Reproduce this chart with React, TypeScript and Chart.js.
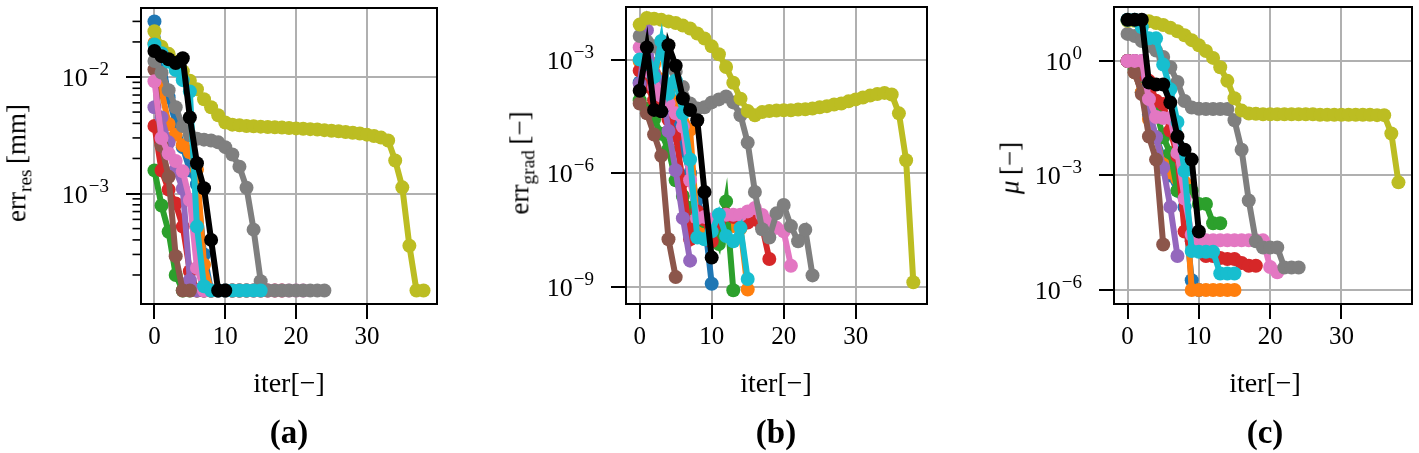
import React, { useEffect, useRef } from "react";
import { Chart, registerables } from "chart.js";
Chart.register(...registerables);

const FONT = '"Liberation Serif", "DejaVu Serif", serif';
const GRID = "#b0b0b0";
const PAGE_W = 1419;
const PAGE_H = 453;

// ---------- categories / ticks ----------
const iterTicks = [0, 10, 20, 30];
const seriesNames = ["blue", "orange", "green", "red", "purple", "brown", "pink", "gray", "olive", "cyan", "black"];
const seriesColors = ["#1f77b4", "#ff7f0e", "#2ca02c", "#d62728", "#9467bd", "#8c564b", "#e377c2", "#7f7f7f", "#bcbd22", "#17becf", "#000000"];

const resTicks = [1e-3, 1e-2];
const resTickExp = ["−3", "−2"];
const resMinor = [2e-4, 3e-4, 4e-4, 5e-4, 6e-4, 7e-4, 8e-4, 9e-4, 2e-3, 3e-3, 4e-3, 5e-3, 6e-3, 7e-3, 8e-3, 9e-3, 2e-2, 3e-2];
const gradTicks = [1e-9, 1e-6, 1e-3];
const gradTickExp = ["−9", "−6", "−3"];
const muTicks = [1e-6, 1e-3, 1];
const muTickExp = ["−6", "−3", "0"];

// ---------- (a) err_res [mm] ----------
const resBlue = [3.0e-2, 1.5e-2, 6.7e-3, 4.0e-3, 2.5e-3, 1.58e-3, 1.2e-3, 3.0e-4, 1.47e-4, 1.47e-4, 1.47e-4];
const resOrange = [1.96e-2, 7.6e-3, 3.95e-3, 3.2e-3, 2.6e-3, 2.26e-3, 1.6e-3, 2.45e-4, 1.47e-4, 1.47e-4, 1.47e-4, 1.47e-4, 1.47e-4, 1.47e-4, 1.47e-4, 1.47e-4];
const resGreen = [1.58e-3, 7.9e-4, 4.7e-4, 2.0e-4, 1.47e-4, 1.47e-4, 1.47e-4, 1.47e-4, 1.47e-4, 1.47e-4, 1.47e-4, 1.47e-4, 1.47e-4, 1.47e-4];
const resRed = [3.8e-3, 1.58e-3, 1.08e-3, 8.2e-4, 5.2e-4, 2.15e-4, 1.47e-4, 1.47e-4, 1.47e-4, 1.47e-4, 1.47e-4, 1.47e-4, 1.47e-4, 1.47e-4, 1.47e-4, 1.47e-4, 1.47e-4, 1.47e-4, 1.47e-4];
const resPurple = [5.5e-3, 4.5e-3, 2.75e-3, 1.6e-3, 1.1e-3, 1.8e-4, 1.47e-4, 1.47e-4];
const resBrown = [1.16e-2, 2.58e-3, 1.39e-3, 2.9e-4, 1.47e-4, 1.47e-4];
const resPink = [9.2e-3, 3.0e-3, 2.2e-3, 1.9e-3, 1.55e-3, 8.8e-4, 2.3e-4, 1.47e-4, 1.47e-4, 1.47e-4, 1.47e-4, 1.47e-4, 1.47e-4, 1.47e-4, 1.47e-4, 1.47e-4, 1.47e-4, 1.47e-4, 1.47e-4, 1.47e-4, 1.47e-4, 1.47e-4];
const resGray = [1.37e-2, 1.09e-2, 7.7e-3, 5.5e-3, 3.8e-3, 3.16e-3, 2.95e-3, 2.9e-3, 2.85e-3, 2.75e-3, 2.5e-3, 2.16e-3, 1.7e-3, 1.12e-3, 4.9e-4, 1.77e-4, 1.47e-4, 1.47e-4, 1.47e-4, 1.47e-4, 1.47e-4, 1.47e-4, 1.47e-4, 1.47e-4, 1.47e-4];
const resOlive = [2.47e-2, 1.82e-2, 1.58e-2, 1.35e-2, 1.12e-2, 9.3e-3, 7.85e-3, 6.45e-3, 5.5e-3, 4.7e-3, 4.07e-3, 3.9e-3, 3.85e-3, 3.8e-3, 3.78e-3, 3.75e-3, 3.72e-3, 3.7e-3, 3.68e-3, 3.65e-3, 3.62e-3, 3.6e-3, 3.57e-3, 3.54e-3, 3.5e-3, 3.46e-3, 3.42e-3, 3.37e-3, 3.32e-3, 3.27e-3, 3.2e-3, 3.12e-3, 3.02e-3, 2.85e-3, 1.92e-3, 1.13e-3, 3.56e-4, 1.47e-4, 1.47e-4];
const resCyan = [1.9e-2, 1.6e-2, 1.35e-2, 1.15e-2, 9.4e-3, 7.5e-3, 5.2e-4, 1.6e-4, 1.47e-4, 1.47e-4, 1.47e-4, 1.47e-4, 1.47e-4, 1.47e-4, 1.47e-4, 1.47e-4];
const resBlack = [1.67e-2, 1.51e-2, 1.42e-2, 1.32e-2, 1.45e-2, 4.5e-3, 1.82e-3, 1.11e-3, 4.0e-4, 1.47e-4, 1.47e-4];

// ---------- (b) err_grad [-] ----------
const gradBlue = [2.5e-4, 4e-4, 1.8e-4, 1.2e-4, 6e-5, 2.5e-5, 4.3e-6, 1e-6, 2e-7, 6e-8, 1.2e-9];
const gradOrange = [9e-4, 6e-4, 7.6e-4, 3e-4, 1.5e-4, 8e-5, 4e-5, 1.4e-5, 3.3e-8, 4e-8, 3.5e-8, 4e-8, 3.3e-8, 4e-8, 3.5e-8, 8.5e-10];
const gradGreen = [8.5e-5, 5e-5, 2.6e-5, 1.1e-5, 4.3e-6, 6.5e-7, 2.5e-7, 1.2e-7, 7.2e-8, 5.4e-8, 4e-8, 1.35e-8, 1.8e-7, 8.1e-10];
const gradRed = [5.1e-4, 2e-4, 8.5e-5, 4.5e-5, 2.6e-5, 9.8e-6, 5.9e-7, 1.8e-8, 9.8e-8, 6e-8, 1.6e-8, 5e-8, 8.1e-8, 7e-8, 6e-8, 5e-8, 6e-8, 4e-8, 5.4e-9];
const gradPurple = [2.3e-4, 6e-3, 4.2e-4, 2.6e-4, 1.3e-5, 1.2e-6, 6.5e-8, 4.9e-9];
const gradBrown = [6.9e-5, 3.8e-5, 1.05e-5, 2.9e-6, 1.8e-8, 1.8e-9];
const gradPink = [2.1e-3, 5.1e-4, 1.9e-4, 1.1e-4, 6.9e-5, 3.8e-5, 1.7e-5, 6.5e-7, 6.5e-8, 7e-8, 6e-8, 7.5e-8, 8e-8, 8e-8, 8e-8, 9.8e-8, 1.2e-7, 7.9e-8, 5.4e-8, 3.6e-8, 2.9e-8, 3.6e-9];
const gradGray = [4.2e-3, 3.0e-3, 2.24e-3, 1.57e-3, 1.14e-3, 4.8e-4, 1.9e-4, 6.9e-5, 5.1e-5, 5.5e-5, 7.4e-5, 8.9e-5, 1.06e-4, 7.4e-5, 3.4e-5, 6.4e-6, 3.2e-7, 3.3e-8, 2.0e-8, 8.7e-8, 1.44e-7, 4.0e-8, 1.6e-8, 3.2e-8, 2.0e-9];
const gradOlive = [8.4e-3, 1.25e-2, 1.2e-2, 1.12e-2, 1.02e-2, 9.3e-3, 7.9e-3, 6.6e-3, 4.9e-3, 3.6e-3, 2.24e-3, 1.39e-3, 6.4e-4, 2.45e-4, 9.3e-5, 4.4e-5, 3.4e-5, 4.1e-5, 4.4e-5, 4.5e-5, 4.6e-5, 4.6e-5, 4.8e-5, 4.9e-5, 5.1e-5, 5.5e-5, 5.9e-5, 6.5e-5, 6.9e-5, 7.9e-5, 8.9e-5, 1.0e-4, 1.12e-4, 1.23e-4, 1.32e-4, 1.2e-4, 3.8e-5, 2.2e-6, 1.32e-9];
const gradCyan = [1.0e-3, 7.6e-4, 3.5e-4, 3.1e-3, 1.26e-4, 2.8e-4, 3.8e-5, 2.3e-6, 2.0e-8, 1.8e-8, 2.9e-8, 8.1e-8, 2.2e-8, 1.6e-8, 3.6e-8, 1.6e-9];
const gradBlack = [1.5e-4, 2.1e-3, 4.7e-5, 4.3e-5, 2.4e-3, 6.9e-4, 9.4e-5, 4.7e-5, 2.5e-5, 3.2e-7, 5.9e-9];

// ---------- (c) mu [-] ----------
const muBlue = [1.0, 0.5, 0.15, 0.04, 0.01, 3e-3, 1e-3, 4e-4, 1.48e-4, 1.8e-6, 1.0e-6];
const muOrange = [1.0, 0.5, 0.15, 0.03, 0.01, 2e-3, 1.2e-3, 8e-4, 6.6e-4, 1e-6, 1e-6, 1e-6, 1e-6, 1e-6, 1e-6, 1e-6];
const muGreen = [1.0, 0.6, 0.4, 0.2, 0.05, 0.01, 3.9e-3, 4e-4, 4e-4, 4e-4, 1.8e-4, 1.8e-4, 5.6e-5, 5.6e-5];
const muRed = [1.0, 1.0, 0.44, 0.3, 0.091, 0.074, 0.015, 3.2e-3, 3.4e-5, 1.9e-5, 1.4e-5, 7.8e-6, 7.8e-6, 6.9e-6, 6.5e-6, 6.5e-6, 5.1e-6, 4.3e-6, 4.3e-6];
const muPurple = [1.0, 1.0, 1.0, 0.05, 0.01, 1.6e-3, 1.5e-4, 7.8e-6];
const muBrown = [1.0, 0.5, 0.135, 0.0105, 2.6e-3, 1.55e-5];
const muPink = [1.0, 1.0, 1.0, 0.1, 0.034, 0.032, 0.032, 3.9e-3, 2.5e-4, 2.8e-5, 2.0e-5, 2.0e-5, 2.0e-5, 2.0e-5, 2.0e-5, 2.0e-5, 2.0e-5, 2.0e-5, 2.0e-5, 2.0e-5, 4e-6, 2.9e-6];
const muGray = [5.1, 4.5, 3.3, 2.5, 1.86, 1.26, 0.68, 0.28, 0.089, 0.06, 0.056, 0.055, 0.055, 0.055, 0.055, 0.028, 4.7e-3, 2.2e-4, 1.9e-5, 1.3e-5, 1.3e-5, 1.3e-5, 3.9e-6, 3.9e-6, 3.9e-6];
const muOlive = [11.2, 11.2, 11.2, 11.0, 9.8, 8.7, 7.4, 6.0, 4.7, 3.5, 2.57, 1.82, 1.2, 0.68, 0.3, 0.105, 0.05, 0.042, 0.041, 0.04, 0.04, 0.04, 0.04, 0.04, 0.04, 0.04, 0.04, 0.039, 0.039, 0.039, 0.039, 0.039, 0.039, 0.039, 0.039, 0.038, 0.038, 0.0126, 6.6e-4];
const muCyan = [12, 12, 7.6, 3.9, 3.9, 0.8, 0.18, 0.025, 1.3e-3, 1.05e-5, 1.0e-5, 1.0e-5, 1.0e-5, 2.7e-6, 2.7e-6, 2.7e-6];
const muBlack = [12, 12, 12, 0.27, 0.24, 0.24, 0.081, 0.0105, 4.7e-3, 2.6e-3, 3.4e-5];

type PanelCfg = {
  canvasLeft: number;
  canvasWidth: number;
  area: { left: number; top: number; right: number; bottom: number };
  yMin: number;
  yMax: number;
  yTicks: number[];
  yTickExp: string[];
  yMinor: number[];
  series: number[][];
};

const panels: PanelCfg[] = [
  {
    canvasLeft: 0, canvasWidth: 450,
    area: { left: 141, top: 8, right: 437, bottom: 304 },
    yMin: 1.127e-4, yMax: 3.91e-2,
    yTicks: resTicks, yTickExp: resTickExp, yMinor: resMinor,
    series: [resBlue, resOrange, resGreen, resRed, resPurple, resBrown, resPink, resGray, resOlive, resCyan, resBlack],
  },
  {
    canvasLeft: 460, canvasWidth: 480,
    area: { left: 626, top: 2, right: 927, bottom: 304 },
    yMin: 3.51e-10, yMax: 2.45e-2,
    yTicks: gradTicks, yTickExp: gradTickExp, yMinor: [],
    series: [gradBlue, gradOrange, gradGreen, gradRed, gradPurple, gradBrown, gradPink, gradGray, gradOlive, gradCyan, gradBlack],
  },
  {
    canvasLeft: 945, canvasWidth: 474,
    area: { left: 1114, top: 1, right: 1416, bottom: 304 },
    yMin: 4.3e-7, yMax: 25.8,
    yTicks: muTicks, yTickExp: muTickExp, yMinor: [],
    series: [muBlue, muOrange, muGreen, muRed, muPurple, muBrown, muPink, muGray, muOlive, muCyan, muBlack],
  },
];

function Panel({ cfg }: { cfg: PanelCfg }) {
  const ref = useRef<HTMLCanvasElement>(null);
  useEffect(() => {
    const canvas = ref.current;
    if (!canvas) return;
    const a = cfg.area;
    const datasets = cfg.series
      .map((vals, i) => ({
        label: seriesNames[i],
        data: vals.map((v, k) => ({ x: k, y: v })),
        borderColor: seriesColors[i],
        backgroundColor: seriesColors[i],
        pointBackgroundColor: seriesColors[i],
        pointBorderWidth: 0,
        pointRadius: 7,
        borderWidth: 6,
        tension: 0,
        fill: false,
      }))
      .reverse();

    const framePlugin = {
      id: "frame",
      afterDraw(chart: any) {
        const ctx = chart.ctx;
        const ca = chart.chartArea;
        const ys = chart.scales.y;
        ctx.save();
        ctx.strokeStyle = "#000";
        ctx.lineWidth = 1.6;
        for (const v of cfg.yMinor) {
          const py = ys.getPixelForValue(v);
          ctx.beginPath();
          ctx.moveTo(ca.left - 8.5, py);
          ctx.lineTo(ca.left, py);
          ctx.stroke();
        }
        ctx.fillStyle = "#000";
        ctx.textAlign = "right";
        ctx.textBaseline = "alphabetic";
        cfg.yTicks.forEach((v, i) => {
          const py = ys.getPixelForValue(v);
          const right = ca.left - 32;
          const exp = cfg.yTickExp[i];
          ctx.font = `19px ${FONT}`;
          const ew = ctx.measureText(exp).width;
          ctx.fillText(exp, right, py - 2);
          ctx.font = `26px ${FONT}`;
          ctx.fillText("10", right - ew - 1, py + 9);
        });
        ctx.lineWidth = 2;
        ctx.strokeRect(ca.left, ca.top, ca.right - ca.left, ca.bottom - ca.top);
        ctx.restore();
      },
    };

    const chart = new Chart(canvas, {
      type: "line",
      data: { datasets },
      options: {
        animation: false,
        responsive: false,
        maintainAspectRatio: false,
        devicePixelRatio: 1,
        events: [],
        layout: { padding: { left: 0, top: a.top, right: cfg.canvasWidth - (a.right - cfg.canvasLeft), bottom: 0 } },
        plugins: { legend: { display: false }, tooltip: { enabled: false } },
        scales: {
          x: {
            type: "linear",
            min: -1.9,
            max: 39.9,
            afterBuildTicks: (s: any) => {
              s.ticks = iterTicks.map((v) => ({ value: v }));
            },
            afterFit: (s: any) => {
              s.height = PAGE_H - a.bottom;
            },
            grid: { color: GRID, lineWidth: 2, tickColor: "#000", tickLength: 15, tickWidth: 2 },
            border: { display: false },
            ticks: {
              color: "#000",
              font: { family: FONT, size: 25 },
              padding: 3,
              maxRotation: 0,
              autoSkip: false,
              callback: (v: any) => String(v),
            },
          },
          y: {
            type: "logarithmic",
            min: cfg.yMin,
            max: cfg.yMax,
            afterBuildTicks: (s: any) => {
              s.ticks = cfg.yTicks.map((v) => ({ value: v, major: true }));
            },
            afterFit: (s: any) => {
              s.width = a.left - cfg.canvasLeft;
            },
            grid: { color: GRID, lineWidth: 2, tickColor: "#000", tickLength: 15, tickWidth: 2 },
            border: { display: false },
            ticks: { display: false },
          },
        },
      },
      plugins: [framePlugin],
    } as any);
    return () => chart.destroy();
  }, [cfg]);
  return (
    <canvas
      ref={ref}
      width={cfg.canvasWidth}
      height={PAGE_H}
      style={{ position: "absolute", left: cfg.canvasLeft, top: 0, width: cfg.canvasWidth, height: PAGE_H }}
    />
  );
}

const labelBase: React.CSSProperties = {
  position: "absolute",
  whiteSpace: "nowrap",
  fontFamily: FONT,
  color: "#000",
  lineHeight: 1,
};

function Label({ x, y, size, rotate, bold, children }: any) {
  return (
    <div
      style={{
        ...labelBase,
        left: x,
        top: y,
        fontSize: size,
        fontWeight: bold ? "bold" : "normal",
        transform: `translate(-50%, -50%)${rotate ? " rotate(-90deg)" : ""}`,
      }}
    >
      {children}
    </div>
  );
}

const subStyle: React.CSSProperties = { fontSize: "0.72em", verticalAlign: "-0.3em" };

export default function App() {
  return (
    <div style={{ position: "absolute", left: 0, top: 0, width: PAGE_W, height: PAGE_H, background: "#fff", overflow: "hidden" }}>
      {panels.map((p, i) => (
        <Panel key={i} cfg={p} />
      ))}
      <Label x={19} y={163} size={27} rotate>
        err<span style={subStyle}>res</span>&thinsp;[mm]
      </Label>
      <Label x={522} y={163} size={27} rotate>
        err<span style={subStyle}>grad</span>&thinsp;[−]
      </Label>
      <Label x={1010} y={168} size={27} rotate>
        <i>μ</i>&thinsp;[−]
      </Label>
      <Label x={289} y={383} size={28}>iter[−]</Label>
      <Label x={776} y={383} size={28}>iter[−]</Label>
      <Label x={1265} y={383} size={28}>iter[−]</Label>
      <Label x={289} y={432} size={33} bold>(a)</Label>
      <Label x={776} y={432} size={33} bold>(b)</Label>
      <Label x={1265} y={432} size={33} bold>(c)</Label>
    </div>
  );
}
